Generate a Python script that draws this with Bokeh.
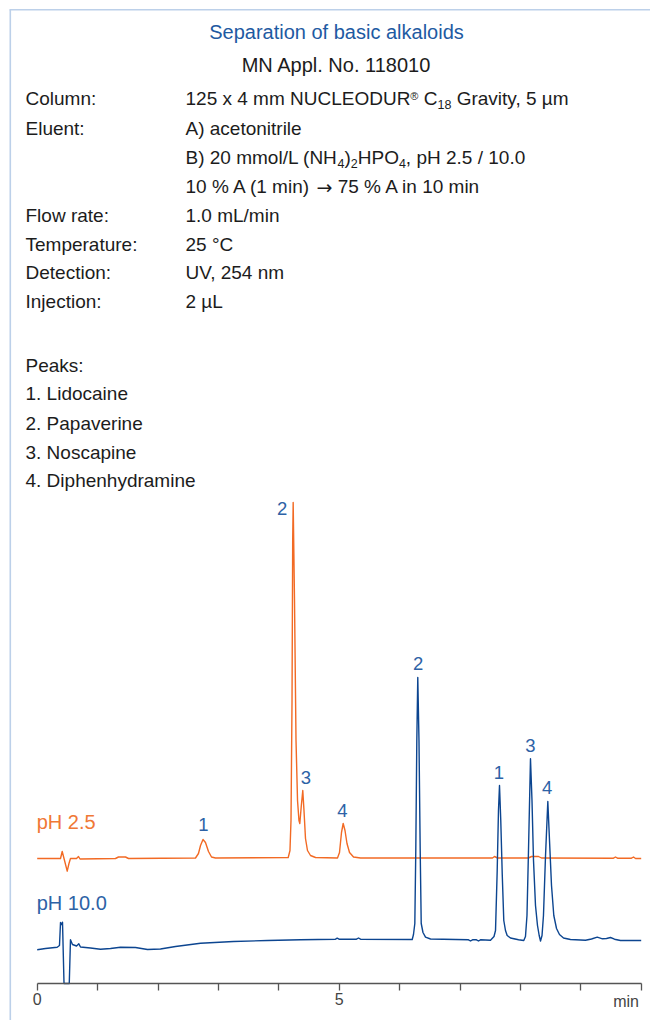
from bokeh.plotting import figure
from bokeh.models import Range1d, FixedTicker
from bokeh.core.properties import value
from bokeh.embed import file_html
from bokeh.resources import INLINE

# ---------------- data ----------------
# pH 2.5 trace: retention time (min) and detector signal (arbitrary units above baseline)
time_ph25 = [0.000, 0.386, 0.414, 0.444, 0.497, 0.526, 0.551, 0.651, 0.684, 0.709,
             1.296, 1.346, 1.462, 1.512, 2.621, 2.670, 2.704, 2.745, 2.786, 2.836,
             2.886, 2.952, 4.156, 4.185, 4.202, 4.219, 4.230, 4.238, 4.260, 4.285,
             4.310, 4.334, 4.348, 4.373, 4.397, 4.417, 4.442, 4.475, 4.525, 4.608,
             4.972, 5.005, 5.038, 5.066, 5.096, 5.129, 5.171, 5.237, 5.353, 7.538,
             7.571, 7.621, 8.134, 8.184, 8.300, 8.349, 9.541, 9.574, 9.608, 9.839,
             9.873, 9.906, 10.000]
signal_ph25 = [0, 0, 7, 0, -12.7, -5, 0, 0, 2, -0.5,
               0, 1.5, 1.5, 0, 0.5, 5, 13, 19, 16, 7,
               1.5, 0.5, 1, 8, 38, 158, 318, 356, 258, 118,
               58, 38, 35, 53, 68, 48, 20, 8, 3, 1,
               0.5, 6, 26, 35, 28, 15, 6, 1.5, 0.5, 0.5,
               2, 0.5, 0.5, 2, 2, 0.5, 0.3, 1.5, 0.3, 0.3,
               1.5, 0, 0]

# pH 10.0 trace
time_ph10 = [0.000, 0.137, 0.331, 0.369, 0.386, 0.402, 0.419, 0.444, 0.531, 0.551,
             0.584, 0.651, 0.689, 0.717, 0.882, 1.048, 1.214, 1.379, 1.627, 1.826,
             2.041, 2.290, 2.704, 3.250, 3.813, 4.359, 4.939, 4.967, 4.997, 5.286,
             5.320, 5.353, 6.209, 6.230, 6.252, 6.268, 6.285, 6.301, 6.321, 6.341,
             6.358, 6.387, 6.429, 6.512, 7.141, 7.174, 7.207, 7.273, 7.306, 7.339,
             7.505, 7.563, 7.588, 7.616, 7.637, 7.654, 7.675, 7.700, 7.725, 7.753,
             7.781, 7.836, 7.969, 8.056, 8.084, 8.109, 8.134, 8.167, 8.192, 8.217,
             8.250, 8.283, 8.311, 8.333, 8.358, 8.382, 8.416, 8.454, 8.482, 8.515,
             8.553, 8.598, 8.647, 8.714, 8.829, 9.078, 9.177, 9.272, 9.359, 9.425,
             9.492, 9.558, 9.657, 10.000]
signal_ph10 = [-1.3, 0, 1.3, 3, 26, 24, 26.3, -35, -35, 8.7,
               4, 2.5, 4.7, 1.5, 0.5, -0.7, 0, 1.3, 1, -1,
               -0.5, 2, 5.3, 7, 8, 8.7, 9.3, 10.3, 9.3, 9.3,
               10.5, 9.3, 9, 14, 25, 98, 208, 271, 208, 98,
               25, 16, 11.3, 9.5, 8.7, 7.5, 8.7, 8.7, 7.5, 8.7,
               8.3, 12, 18, 78, 138, 163, 128, 73, 28, 18,
               13, 10.5, 8.7, 8, 12, 33, 98, 189.7, 148, 88,
               43, 23, 13, 7.5, 13, 33, 93, 147, 108, 63,
               33, 20, 14, 10.5, 9, 8.3, 9.5, 11.3, 9.7, 10,
               11, 9.3, 8, 8]

# peak annotations
peaks_ph25_ids = ["1", "2", "3", "4"]
peaks_ph25_time = [2.745, 4.238, 4.397, 5.066]
peaks_ph25_apex = [19, 356, 68, 35]
peaks_ph10_ids = ["2", "1", "3", "4"]
peaks_ph10_time = [6.301, 7.654, 8.167, 8.454]
peaks_ph10_apex = [271, 163, 189.7, 147]

series_names = ["pH 2.5", "pH 10.0"]
peak_names = ["1. Lidocaine", "2. Papaverine", "3. Noscapine", "4. Diphenhydramine"]

x_ticks = [0, 1, 2, 3, 4, 5, 6, 7, 8, 9, 10]
x_tick_labels = {0: "0", 5: "5"}
x_unit = "min"

title = "Separation of basic alkaloids"
subtitle = "MN Appl. No. 118010"

# ---------------- styling / layout ----------------
FONT = "Liberation Sans"
ARROW_FONT = "DejaVu Sans"
TEXT = "#1c1c1c"
TITLE_BLUE = "#1e5aa2"
LABEL_BLUE = "#2d62a6"
ORANGE = "#f26a24"
ORANGE_TXT = "#f07836"
BLUE = "#0c4590"
BORDER = "#bcd0e9"
AXIS = "#555555"

W, H = 650, 1020
AXIS_Y = 983            # page y of the time axis
PX_PER_MIN = 60.4
T0_PAGE = 36.7          # page x of t = 0
OFF25 = AXIS_Y - 858    # baseline of the pH 2.5 trace (1 unit = 1 px)
OFF10 = AXIS_Y - 948    # baseline of the pH 10.0 trace

p = figure(width=W, height=H, output_backend="svg", toolbar_location=None,
           x_range=Range1d(-T0_PAGE / PX_PER_MIN, (W - T0_PAGE) / PX_PER_MIN),
           y_range=Range1d(AXIS_Y - H, AXIS_Y),
           x_axis_location="below", y_axis_location=None,
           min_border_left=0, min_border_right=0, min_border_top=0, min_border_bottom=0)
p.extra_x_ranges = {"px": Range1d(0, W)}
p.extra_y_ranges = {"px": Range1d(H, 0)}
p.xgrid.visible = False
p.ygrid.visible = False
p.outline_line_color = None
p.background_fill_color = "white"
p.border_fill_color = "white"

ax = p.xaxis[0]
ax.fixed_location = 0
ax.ticker = FixedTicker(ticks=x_ticks, minor_ticks=[])
ax.bounds = (x_ticks[0], x_ticks[-1])
ax.major_label_overrides = {t: x_tick_labels.get(t, "") for t in x_ticks}
ax.axis_line_color = AXIS
ax.axis_line_width = 1.3
ax.major_tick_line_color = AXIS
ax.major_tick_line_width = 1.3
ax.major_tick_in = 0
ax.major_tick_out = 7
ax.minor_tick_out = 0
ax.minor_tick_in = 0
ax.major_label_standoff = 2
ax.major_label_text_font = FONT
ax.major_label_text_font_size = "16px"
ax.major_label_text_color = "#444444"

# frame border (light blue, top and left)
p.segment(x0=[9, 9.8], y0=[9.3, 9.3], x1=[W + 5, 9.8], y1=[9.3, H + 5],
          x_range_name="px", y_range_name="px", line_color=BORDER, line_width=1.6)

# traces
p.line(time_ph25, [OFF25 + s for s in signal_ph25], line_color=ORANGE, line_width=1.4,
       line_join="round")
p.line(time_ph10, [OFF10 + s for s in signal_ph10], line_color=BLUE, line_width=1.4,
       line_join="round")

# peak numbers (centre of the digit relative to the apex, in px)
lab25_dx = [0.5, -11, 3, -0.7]
lab25_dy = [15, -6, 13, 13]
lab10_dx = [0.4, -0.5, 0, -0.6]
lab10_dy = [14, 13, 13.3, 14]
p.text(x=[t + dx / PX_PER_MIN for t, dx in zip(peaks_ph25_time, lab25_dx)],
       y=[OFF25 + a + dy for a, dy in zip(peaks_ph25_apex, lab25_dy)],
       text=peaks_ph25_ids, text_font=value(FONT), text_font_size=value("18.5px"),
       text_color=LABEL_BLUE, text_align="center", text_baseline="middle")
p.text(x=[t + dx / PX_PER_MIN for t, dx in zip(peaks_ph10_time, lab10_dx)],
       y=[OFF10 + a + dy for a, dy in zip(peaks_ph10_apex, lab10_dy)],
       text=peaks_ph10_ids, text_font=value(FONT), text_font_size=value("18.5px"),
       text_color=LABEL_BLUE, text_align="center", text_baseline="middle")


def txt(x, y, s, size, color=TEXT, align="left", font=FONT):
    p.text(x=[x], y=[y], text=[s], x_range_name="px", y_range_name="px",
           text_font=value(font), text_font_size=value(f"{size}px"),
           text_color=color, text_align=align, text_baseline="middle")


# series names
txt(36.2, 821.5, series_names[0], 20, ORANGE_TXT)
txt(36.2, 902.5, series_names[1], 20, LABEL_BLUE)

# unit label beside the last tick
txt(638.5, 1001, x_unit, 16, "#444444", "right")

# ---------------- header ----------------
ARIAL = {' ': 278, '(': 333, ')': 333, ',': 278, '.': 278, '/': 278, '®': 737, '%': 889,
         'A': 667, 'B': 667, 'C': 722, 'D': 722, 'E': 667, 'G': 778, 'H': 722, 'L': 556,
         'N': 722, 'O': 778, 'P': 667, 'R': 722, 'U': 722, 'a': 556, 'i': 222,
         'l': 222, 'm': 833, 'n': 556, 'o': 556, 'r': 333, 't': 278, 'v': 500,
         'x': 500, 'y': 500, 'µ': 556, '\u2192': 838}


def tw(s, size):
    return sum(ARIAL.get(c, 556) for c in s) * size / 1000.0


def runs(x, y, parts):
    for s, size, dy, font in parts:
        lead = len(s) - len(s.lstrip(" "))
        txt(x + tw(" " * lead, size), y + dy, s.strip(" "), size, font=font)
        x += tw(s, size)


FS = 19
SUB = 12.5
SUP = 11
LX, VX = 25, 185
CX = 336

txt(CX, 31.7, title, 20, TITLE_BLUE, "center")
txt(CX, 64.0, subtitle, 20, TEXT, "center")

row_y = [98.0, 128.0, 156.7, 186.0, 215.0, 243.5, 271.7, 300.7]
row_labels = ["Column:", "Eluent:", "", "", "Flow rate:", "Temperature:", "Detection:", "Injection:"]
for lab, y in zip(row_labels, row_y):
    if lab:
        txt(LX, y, lab, FS)

runs(VX, row_y[0], [("125 x 4 mm NUCLEODUR", FS, 0, FONT), ("®", SUP, -2.8, FONT),
                    (" C", FS, 0, FONT), ("18", SUB, 6.3, FONT),
                    (" Gravity, 5 µm", FS, 0, FONT)])
txt(VX, row_y[1], "A) acetonitrile", FS)
runs(VX, row_y[2], [("B) 20 mmol/L (NH", FS, 0, FONT), ("4", SUB, 6.3, FONT),
                    (")", FS, 0, FONT), ("2", SUB, 6.3, FONT), ("HPO", FS, 0, FONT),
                    ("4", SUB, 6.3, FONT), (", pH 2.5 / 10.0", FS, 0, FONT)])
runs(VX, row_y[3], [("10 % A (1 min) ", FS, 0, FONT), ("\u2192", FS, 0, ARROW_FONT),
                    (" 75 % A in 10 min", FS, 0, FONT)])
txt(VX, row_y[4], "1.0 mL/min", FS)
txt(VX, row_y[5], "25 °C", FS)
txt(VX, row_y[6], "UV, 254 nm", FS)
txt(VX, row_y[7], "2 µL", FS)

peak_y = [364.7, 393.3, 422.7, 451.7, 480.0]
txt(LX, peak_y[0], "Peaks:", FS)
for name, y in zip(peak_names, peak_y[1:]):
    txt(LX, y, name, FS)

open("out.html", "w").write(file_html(p, INLINE))
